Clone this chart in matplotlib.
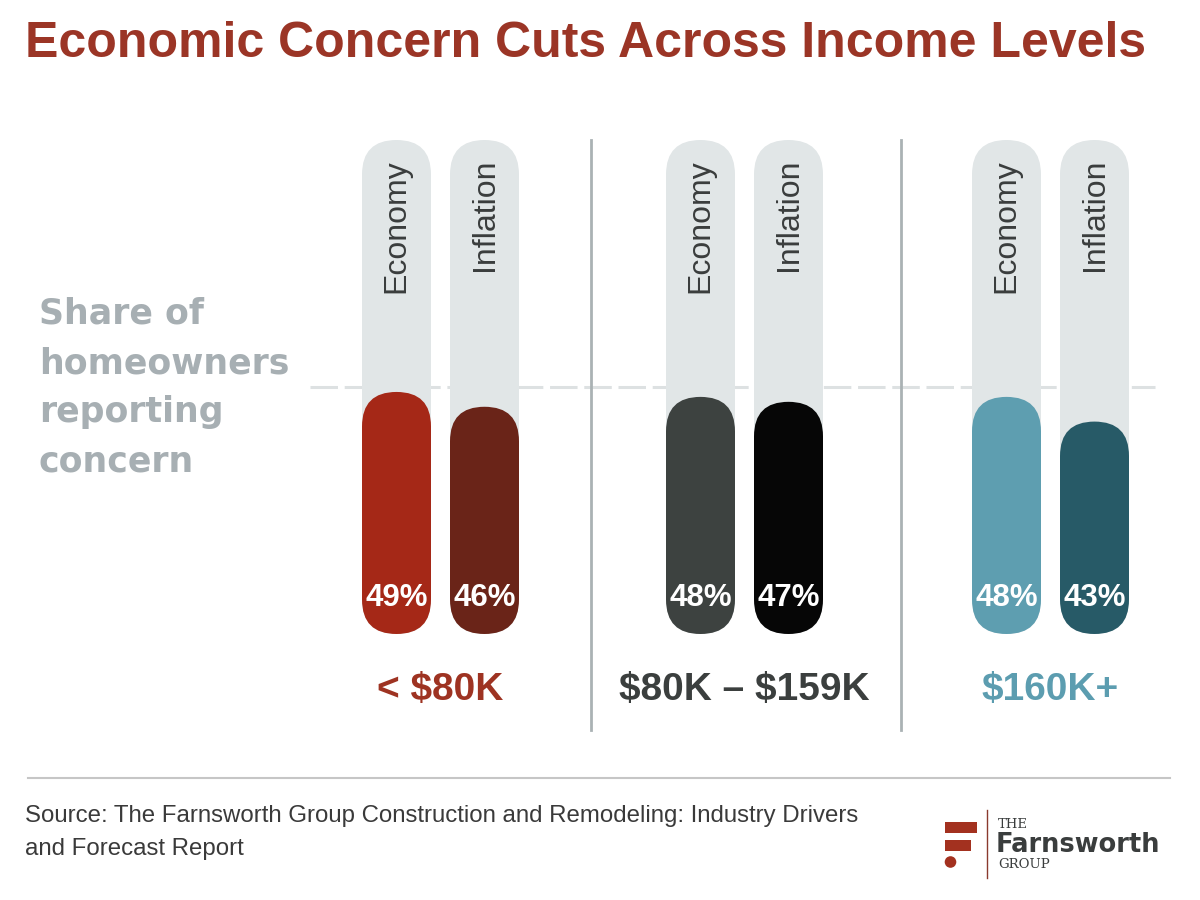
import numpy as np
import matplotlib.pyplot as plt
from matplotlib.patches import FancyBboxPatch, Rectangle, Circle
from matplotlib.lines import Line2D

# data
groups = ['< $80K', '$80K – $159K', '$160K+']
series = ['Economy', 'Inflation']
economy = [49, 48, 48]
inflation = [46, 47, 43]
reference_level = 50

group_colors = ['#9e3322', '#3b3f3e', '#5c9db0']
bar_colors = [('#a52817', '#6a2418'), ('#3d4240', '#060606'), ('#5e9eb0', '#275a67')]
track_color = '#e1e6e7'

W, H = 1200, 900
fig = plt.figure(figsize=(12, 9), dpi=100)
fig.patch.set_facecolor('white')

# axes: x in pixels, y in percent (0 at px 634, 100 at px 140)
y0_px, y100_px = 634, 140
ax = fig.add_axes([0, (H - y0_px) / H, 1, (y0_px - y100_px) / H])
ax.set_xlim(0, W)
ax.set_ylim(0, 100)
ax.axis('off')

px_per_y = (y0_px - y100_px) / 100.0
bar_w = 69
bar_lefts = [(362, 450), (666, 754), (972, 1060)]


def pill(x, top, color, z):
    r = bar_w / 2
    p = FancyBboxPatch((x, 0), bar_w, top,
                       boxstyle=f'round,pad=0,rounding_size={r}',
                       mutation_aspect=1 / px_per_y,
                       fc=color, ec='none', zorder=z)
    ax.add_patch(p)


# dashed 50% line
ax.plot([310, 1155], [reference_level, reference_level], color='#dde1e2',
        lw=2.2, dashes=(9, 2.2), zorder=1)

for gi, g in enumerate(groups):
    vals = [economy[gi], inflation[gi]]
    for si, s in enumerate(series):
        x = bar_lefts[gi][si]
        pill(x, 100, track_color, 2)
        pill(x, vals[si], bar_colors[gi][si], 3)
        cx = x + bar_w / 2
        ax.text(cx, 96.2, s, rotation=90, ha='center', va='top',
                fontsize=23, color='#3a3d3d', family='Liberation Sans', zorder=4)
        ax.text(cx, (y0_px - 598) / px_per_y, f'{vals[si]}%', ha='center', va='center',
                fontsize=22.5, fontweight='bold', color='white',
                family='Liberation Sans', zorder=4)
    gx = (bar_lefts[gi][0] + bar_lefts[gi][1] + bar_w) / 2
    fig.text(gx / W, 1 - 690 / H, g, ha='center', va='center', fontsize=28,
             fontweight='bold', color=group_colors[gi], family='Liberation Sans',
             parse_math=False)

# separators
for sx in (591, 901):
    fig.add_artist(Line2D([sx / W, sx / W], [1 - 140 / H, 1 - 730 / H],
                          color='#aab2b4', lw=2))

# title
fig.text(25 / W, 1 - 44 / H, 'Economic Concern Cuts Across Income Levels',
         ha='left', va='center', fontsize=36, fontweight='bold',
         color='#9b3526', family='Liberation Sans')

# side label
for i, line in enumerate(['Share of', 'homeowners', 'reporting', 'concern']):
    fig.text(39 / W, 1 - (314 + 49 * i) / H, line, ha='left', va='center',
             fontsize=25, fontweight='bold', color='#a7afb3', family='DejaVu Sans')

# footer rule
fig.add_artist(Line2D([28 / W, 1170 / W], [1 - 778 / H, 1 - 778 / H],
                      color='#c6c6c6', lw=1.5))

fig.text(25 / W, 1 - 816 / H,
         'Source: The Farnsworth Group Construction and Remodeling: Industry Drivers',
         ha='left', va='center', fontsize=17.3, color='#3a3a3a', family='Liberation Sans')
fig.text(25 / W, 1 - 849 / H, 'and Forecast Report',
         ha='left', va='center', fontsize=17.3, color='#3a3a3a', family='Liberation Sans')

# logo
logo_red = '#a3311f'
fig.add_artist(Rectangle((945 / W, 1 - 833 / H), 32 / W, 11 / H, fc=logo_red, ec='none',
                         transform=fig.transFigure))
fig.add_artist(Rectangle((945 / W, 1 - 851 / H), 26 / W, 11 / H, fc=logo_red, ec='none',
                         transform=fig.transFigure))
ax_logo = fig.add_axes([940 / W, 1 - 870 / H, 20 / W, 16 / H])
ax_logo.set_xlim(0, 20)
ax_logo.set_ylim(0, 16)
ax_logo.set_aspect('equal')
ax_logo.axis('off')
ax_logo.add_patch(Circle((10.5, 8), 5.8, fc=logo_red, ec='none'))
fig.add_artist(Line2D([987 / W, 987 / W], [1 - 810 / H, 1 - 878 / H],
                      color='#8a3a2e', lw=1))
fig.text(998 / W, 1 - 825 / H, 'THE', ha='left', va='center', fontsize=9.5,
         color='#3a3d3d', family='DejaVu Serif')
fig.text(996 / W, 1 - 845 / H, 'Farnsworth', ha='left', va='center', fontsize=18.5,
         fontweight='bold', color='#3a3d3d', family='DejaVu Sans')
fig.text(998 / W, 1 - 865 / H, 'GROUP', ha='left', va='center', fontsize=9.5,
         color='#3a3d3d', family='DejaVu Serif')

fig.savefig('out.png', dpi=100, facecolor='white')
